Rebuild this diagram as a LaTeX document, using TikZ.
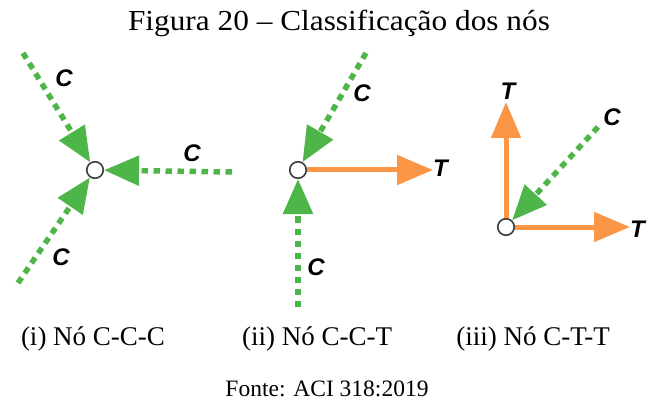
\documentclass[tikz,border=0pt]{standalone}
\usepackage{fontspec}
\setmainfont{Liberation Serif}
\newfontfamily\labelfont{Liberation Sans}
\usetikzlibrary{arrows.meta}

\definecolor{compgreen}{RGB}{78,181,72}
\definecolor{tensorange}{RGB}{250,150,70}
\definecolor{jointgray}{RGB}{60,60,60}

\tikzset{
  joint/.style={circle, draw=jointgray, fill=white, line width=1.6pt,
    minimum size=16.5pt, inner sep=0pt},
  compstrut/.style={draw=compgreen, line width=5.5pt,
    dash pattern=on 6.5pt off 5.5pt,
    -{Triangle[length=35pt, width=29pt, fill=compgreen]}},
  tenstie/.style={draw=tensorange, line width=5pt,
    -{Triangle[length=36pt, width=29pt, fill=tensorange]}},
  forcelbl/.style={font=\labelfont\bfseries\itshape\fontsize{24}{24}\selectfont,
    inner sep=0pt},
  caption/.style={font=\fontsize{27}{30}\selectfont, anchor=base, inner sep=0pt},
}

\begin{document}
\begin{tikzpicture}[x=1pt, y=1pt]
  \useasboundingbox (0,0) rectangle (651,405);

  % title and source
  \node[caption, font=\fontsize{29}{32}\selectfont] (title) at (339,374)
    {\scalebox{1.08}[1]{Figura 20 -- Classificação dos nós}};
  \node[caption, font=\fontsize{23.5}{26}\selectfont] (source) at (327,9)
    {Fonte: ACI 318:2019};

  % joints
  \node[joint] (n1) at (95,235) {};
  \node[joint] (n2) at (298,235) {};
  \node[joint] (n3) at (506,178) {};

  % (i) C-C-C node
  \coordinate (a1) at (23,352);
  \coordinate (a2) at (232,233);
  \coordinate (a3) at (18,122);
  \draw[compstrut] (a1) -- (n1);
  \draw[compstrut] (a2) -- (n1);
  \draw[compstrut] (a3) -- (n1);
  \node[forcelbl] (c1a) at (64,327) {C};
  \node[forcelbl] (c1b) at (192,252) {C};
  \node[forcelbl] (c1c) at (61,148) {C};
  \node[caption] (cap1) at (93,60) {(i) Nó C-C-C};

  % (ii) C-C-T node
  \coordinate (b1) at (366,352);
  \coordinate (b2) at (298,98);
  \coordinate (b3) at (433,235);
  \draw[compstrut] (b1) -- (n2);
  \draw[compstrut] (b2) -- (n2);
  \draw[tenstie] (n2) -- (b3);
  \node[forcelbl] (c2a) at (362,312) {C};
  \node[forcelbl] (c2b) at (316,138) {C};
  \node[forcelbl, anchor=west] (t2) at (433,237) {T};
  \node[caption] (cap2) at (317,60) {(ii) Nó C-C-T};

  % (iii) C-T-T node
  \coordinate (d1) at (598,278);
  \coordinate (d2) at (506,303);
  \coordinate (d3) at (630,178);
  \draw[tenstie] (n3) -- (d2);
  \draw[tenstie] (n3) -- (d3);
  \draw[compstrut] (d1) -- (n3);
  \node[forcelbl] (c3) at (612,288) {C};
  \node[forcelbl, anchor=south] (t3a) at (508,305) {T};
  \node[forcelbl, anchor=west] (t3b) at (630,176) {T};
  \node[caption] (cap3) at (533,60) {(iii) Nó C-T-T};
\end{tikzpicture}
\end{document}
